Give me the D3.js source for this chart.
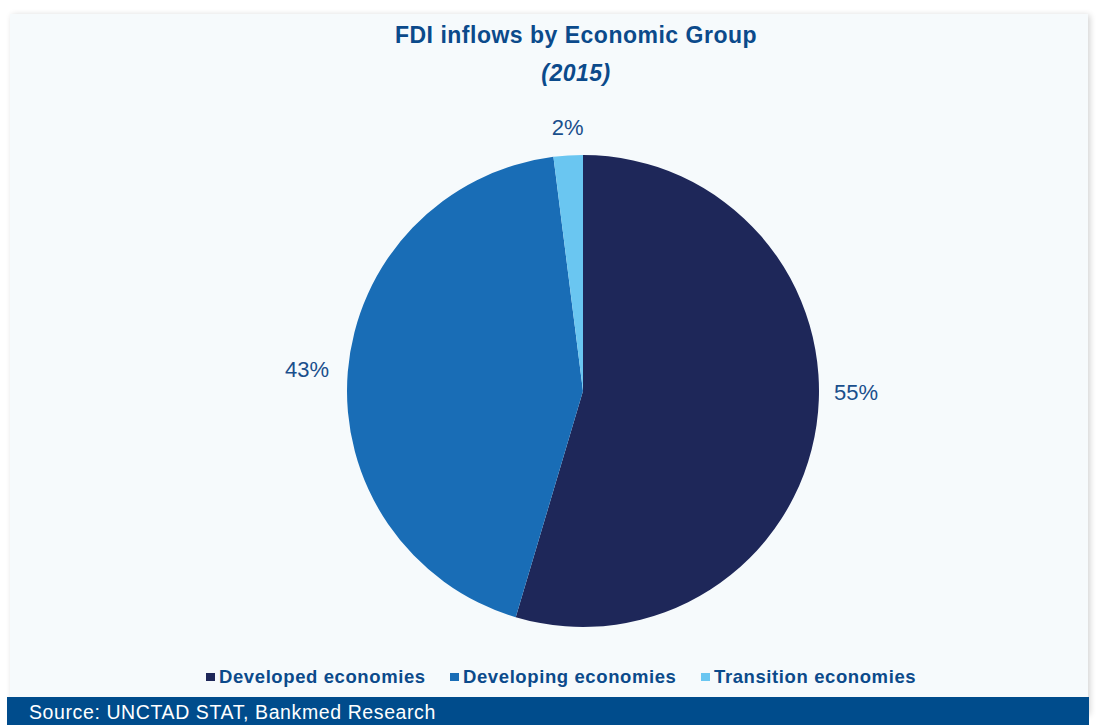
<!DOCTYPE html>
<html>
<head>
<meta charset="utf-8">
<script src="https://cdn.jsdelivr.net/npm/d3@7"></script>
<style>
  html, body { margin: 0; padding: 0; background: #ffffff; }
  svg { display: block; }
</style>
</head>
<body>
<svg id="chart" width="1096" height="725"></svg>
<script>
const categories = ["Developed economies", "Developing economies", "Transition economies"];
const values = [54.6, 43.4, 2.0];
const labels = ["55%", "43%", "2%"];
const colors = ["#1e2759", "#196db6", "#6ac6f1"];
const title = "FDI inflows by Economic Group";
const subtitle = "(2015)";
const source = "Source: UNCTAD STAT, Bankmed Research";

const FONT = "Liberation Sans, Arial, Helvetica, sans-serif";
const svg = d3.select("#chart");
const defs = svg.append("defs");
const f = defs.append("filter").attr("id", "shadow").attr("x", "-5%").attr("y", "-5%").attr("width", "110%").attr("height", "110%");
f.append("feGaussianBlur").attr("in", "SourceAlpha").attr("stdDeviation", 3);
f.append("feOffset").attr("dx", 2).attr("dy", 1).attr("result", "b");
f.append("feComponentTransfer").append("feFuncA").attr("type", "linear").attr("slope", 0.18);
const m = f.append("feMerge");
m.append("feMergeNode");
m.append("feMergeNode").attr("in", "SourceGraphic");

// card
svg.append("rect").attr("x", 10).attr("y", 14).attr("width", 1078).attr("height", 700)
  .attr("fill", "#f6fafc").attr("filter", "url(#shadow)");

const cx = 583, cy = 391, r = 236;

svg.append("text").attr("x", 576).attr("y", 43).attr("text-anchor", "middle")
  .attr("font-family", FONT).attr("font-weight", "bold").attr("letter-spacing", 0.5)
  .attr("font-size", 23).attr("fill", "#0b4a8b").text(title);
svg.append("text").attr("x", 576).attr("y", 81).attr("text-anchor", "middle")
  .attr("font-family", FONT).attr("font-weight", "bold").attr("letter-spacing", 0.5)
  .attr("font-style", "italic").attr("font-size", 23).attr("fill", "#0b4a8b").text(subtitle);

const pie = d3.pie().sort(null).value(d => d);
const arcs = pie(values);
const arc = d3.arc().innerRadius(0).outerRadius(r);
const g = svg.append("g").attr("transform", `translate(${cx},${cy})`);
g.selectAll("path").data(arcs).join("path")
  .attr("d", arc).attr("fill", (d, i) => colors[i]);

// data labels placed outside the slices (Excel-style best-fit nudges)
const labelNudge = [[0, -38], [-1, 1], [2, 12]];
const labelArc = d3.arc().innerRadius(r + 40).outerRadius(r + 40);
g.selectAll("text.lbl").data(arcs).join("text").attr("class", "lbl")
  .attr("transform", (d, i) => {
    const [x, y] = labelArc.centroid(d);
    return `translate(${x + labelNudge[i][0]},${y + labelNudge[i][1]})`;
  })
  .attr("text-anchor", "middle").attr("dy", "0.35em")
  .attr("font-family", FONT).attr("font-size", 22)
  .attr("fill", "#1a4f8c").text((d, i) => labels[i]);

// legend
const legendX = [206, 450, 701];
const lg = svg.append("g");
categories.forEach((c, i) => {
  lg.append("rect").attr("x", legendX[i]).attr("y", 673).attr("width", 9).attr("height", 8).attr("fill", colors[i]);
  lg.append("text").attr("x", legendX[i] + 13).attr("y", 683)
    .attr("font-family", FONT).attr("font-weight", "bold").attr("letter-spacing", 0.6)
    .attr("font-size", 18.5).attr("fill", "#0b4a8b").text(c);
});

// source bar
svg.append("rect").attr("x", 7).attr("y", 697).attr("width", 1082).attr("height", 28).attr("fill", "#004c8c");
svg.append("text").attr("x", 29).attr("y", 719)
  .attr("font-family", FONT).attr("font-size", 19.5).attr("letter-spacing", 0.6)
  .attr("fill", "#ffffff").text(source);
</script>
</body>
</html>
